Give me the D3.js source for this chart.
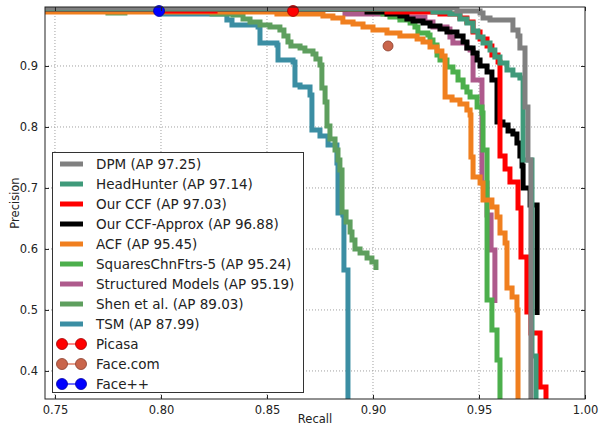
<!DOCTYPE html>
<html>
<head>
<meta charset="utf-8">
<script src="https://cdn.jsdelivr.net/npm/d3@7"></script>
<style>
  body { margin: 0; background: #fff; }
  text { font-family: "DejaVu Sans", sans-serif; }
</style>
</head>
<body>
<div id="chart"></div>
<script>
// PR curves (recall, precision)
const dpmRecall = [0.7453,0.9377,0.9396,0.9505,0.9519,0.9552,0.9656,0.9660,0.9684,0.9693,0.9717,0.9717,0.9731,0.9731,0.9745,0.9745];
const dpmPrecision = [0.9951,0.9951,0.9902,0.9869,0.9787,0.9754,0.9754,0.9590,0.9492,0.9295,0.9230,0.8328,0.8295,0.7459,0.7410,0.35];

const hhRecall = [0.7453,0.9283,0.9363,0.9410,0.9443,0.9472,0.9495,0.9519,0.9552,0.9575,0.9599,0.9632,0.9660,0.9693,0.9708,0.9708,0.9750,0.9750,0.9769,0.9769];
const hhPrecision = [0.9934,0.9885,0.9852,0.9770,0.9705,0.9574,0.9475,0.9377,0.9262,0.9148,0.9049,0.8934,0.8852,0.8803,0.8770,0.7459,0.7426,0.4246,0.4213,0.35];

const ccfRecall = [0.7453,0.7991,0.8255,0.9066,0.9316,0.9410,0.9443,0.9472,0.9505,0.9538,0.9561,0.9590,0.9599,0.9599,0.9623,0.9623,0.9646,0.9646,0.9684,0.9684,0.9698,0.9698,0.9726,0.9726,0.9745,0.9745,0.9788,0.9788,0.9816,0.9816];
const ccfPrecision = [0.9934,0.9902,0.9934,0.9885,0.9852,0.9787,0.9721,0.9557,0.9443,0.9328,0.9180,0.9066,0.8902,0.7525,0.7492,0.7311,0.7279,0.7098,0.7066,0.6672,0.6607,0.5869,0.5836,0.4967,0.4934,0.4623,0.4607,0.3738,0.3705,0.35];

const approxRecall = [0.7453,0.8972,0.9066,0.9127,0.9160,0.9189,0.9236,0.9269,0.9316,0.9349,0.9396,0.9425,0.9443,0.9472,0.9491,0.9505,0.9538,0.9561,0.9585,0.9585,0.9613,0.9637,0.9660,0.9679,0.9693,0.9703,0.9708,0.9741,0.9741,0.9774,0.9774];
const approxPrecision = [0.9934,0.9885,0.9852,0.9820,0.9770,0.9738,0.9705,0.9656,0.9607,0.9557,0.9492,0.9393,0.9295,0.9213,0.9098,0.9000,0.8902,0.8770,0.8639,0.8082,0.8033,0.7934,0.7885,0.7738,0.7525,0.7361,0.7000,0.6967,0.6721,0.6689,0.4918];

const acfRecall = [0.7453,0.8547,0.8764,0.8811,0.8858,0.8906,0.8953,0.9000,0.9066,0.9127,0.9208,0.9236,0.9269,0.9302,0.9325,0.9340,0.9340,0.9373,0.9410,0.9443,0.9458,0.9462,0.9472,0.9505,0.9519,0.9561,0.9585,0.9599,0.9623,0.9632,0.9656,0.9679,0.9684];
const acfPrecision = [0.9885,0.9852,0.9820,0.9787,0.9721,0.9689,0.9639,0.9590,0.9541,0.9492,0.9443,0.9393,0.9311,0.9246,0.9164,0.9066,0.8492,0.8443,0.8377,0.8279,0.8197,0.7508,0.7180,0.7082,0.6803,0.6689,0.6525,0.6262,0.6098,0.5361,0.5213,0.5000,0.35];

const squaresRecall = [0.7453,0.9019,0.9047,0.9080,0.9127,0.9175,0.9198,0.9212,0.9259,0.9269,0.9283,0.9302,0.9316,0.9349,0.9377,0.9401,0.9425,0.9443,0.9458,0.9491,0.9514,0.9519,0.9538,0.9538,0.9561,0.9561,0.9585,0.9585,0.9599,0.9599];
const squaresPrecision = [0.9934,0.9885,0.9852,0.9803,0.9754,0.9705,0.9639,0.9541,0.9508,0.9426,0.9344,0.9180,0.9098,0.8984,0.8902,0.8770,0.8656,0.8574,0.8492,0.8328,0.8230,0.7623,0.7574,0.5164,0.5131,0.4672,0.4639,0.4180,0.4148,0.35];

const structRecall = [0.7453,0.8868,0.9127,0.9245,0.9283,0.9349,0.9363,0.9377,0.9443,0.9458,0.9472,0.9472,0.9514,0.9514,0.9538,0.9538,0.9557,0.9557,0.9575,0.9575];
const structPrecision = [0.9934,0.9852,0.9803,0.9721,0.9639,0.9607,0.9475,0.9377,0.9295,0.9262,0.9148,0.8770,0.8738,0.7082,0.7049,0.6557,0.6525,0.5984,0.5951,0.5115];

const shenRecall = [0.7453,0.7750,0.7830,0.8241,0.8340,0.8387,0.8420,0.8467,0.8514,0.8561,0.8580,0.8599,0.8613,0.8656,0.8679,0.8717,0.8731,0.8750,0.8759,0.8774,0.8783,0.8797,0.8821,0.8835,0.8844,0.8854,0.8873,0.8892,0.8901,0.8915,0.8939,0.8972,0.8995,0.9014];
const shenPrecision = [0.9934,0.9869,0.9918,0.9852,0.9836,0.9770,0.9721,0.9672,0.9639,0.9590,0.9492,0.9393,0.9328,0.9295,0.9246,0.9197,0.9115,0.9016,0.8639,0.8410,0.8016,0.7803,0.7623,0.7459,0.7295,0.6607,0.6443,0.6279,0.6148,0.6000,0.5934,0.5852,0.5787,0.5656];

const tsmRecall = [0.7453,0.8009,0.8311,0.8335,0.8458,0.8467,0.8547,0.8552,0.8623,0.8632,0.8656,0.8703,0.8712,0.8750,0.8788,0.8830,0.8835,0.8858,0.8863,0.8882,0.8882];
const tsmPrecision = [0.9934,0.9852,0.9754,0.9672,0.9639,0.9377,0.9344,0.9098,0.9066,0.8689,0.8656,0.8525,0.7951,0.7852,0.7705,0.7410,0.6590,0.6557,0.5656,0.5623,0.35];

// single operating points of the commercial systems
const pointNames = ["Picasa", "Face.com", "Face++"];
const pointRecall = [0.8623, 0.9071, 0.7991];
const pointPrecision = [0.9902, 0.9328, 0.9902];

const curveNames = ["DPM (AP 97.25)", "HeadHunter (AP 97.14)", "Our CCF (AP 97.03)",
  "Our CCF-Approx (AP 96.88)", "ACF (AP 95.45)", "SquaresChnFtrs-5 (AP 95.24)",
  "Structured Models (AP 95.19)", "Shen et al. (AP 89.03)", "TSM (AP 87.99)"];

const xTicks = [0.75, 0.80, 0.85, 0.90, 0.95, 1.00];
const yTicks = [0.4, 0.5, 0.6, 0.7, 0.8, 0.9];

const width = 599;
const height = 425;
const plotLeft = 45, plotRight = 585, plotTop = 7, plotBottom = 399;

const curveColors = ["#808080", "#3f9a7a", "#ff0000", "#000000", "#f07f1f",
  "#4caf4c", "#ae5a8c", "#5e9f5e", "#3b8ea3"];
const pointColors = ["#ff0000", "#c9654b", "#0000ff"];
const pointEdges = ["#a00000", "#8a3e2c", "#0000a0"];
const pointLinks = ["#ff8a8a", "#e6a08e", "#7070ff"];

const curves = [
  [dpmRecall, dpmPrecision], [hhRecall, hhPrecision], [ccfRecall, ccfPrecision],
  [approxRecall, approxPrecision], [acfRecall, acfPrecision], [squaresRecall, squaresPrecision],
  [structRecall, structPrecision], [shenRecall, shenPrecision], [tsmRecall, tsmPrecision]
].map((c, i) => ({ name: curveNames[i], color: curveColors[i], pts: d3.zip(c[0], c[1]) }));

var svg = d3.select("#chart").append("svg")
  .attr("width", width)
  .attr("height", height);

const xScale = d3.scaleLinear().domain([0.7453, 1.0]).range([plotLeft, plotRight]);
const yScale = d3.scaleLinear().domain([0.354, 0.9967]).range([plotBottom, plotTop]);

svg.append("clipPath").attr("id", "plot-clip")
  .append("rect")
  .attr("x", plotLeft).attr("y", plotTop)
  .attr("width", plotRight - plotLeft).attr("height", plotBottom - plotTop);

// dotted grid
var grid = svg.append("g").attr("class", "grid")
  .attr("stroke", "#a0a0a0")
  .attr("stroke-width", 1)
  .attr("stroke-dasharray", "1,2");
grid.selectAll("line.gx").data(xTicks.slice(0, -1)).join("line")
  .attr("x1", d => xScale(d)).attr("x2", d => xScale(d))
  .attr("y1", plotTop).attr("y2", plotBottom);
grid.selectAll("line.gy").data(yTicks).join("line")
  .attr("y1", d => yScale(d)).attr("y2", d => yScale(d))
  .attr("x1", plotLeft).attr("x2", plotRight);

// curves: drawn in reverse so DPM ends up on top
var line = d3.line()
  .x(d => xScale(d[0]))
  .y(d => yScale(d[1]))
  .curve(d3.curveStepAfter);

svg.append("g")
  .attr("clip-path", "url(#plot-clip)")
  .selectAll("path")
  .data(curves.slice().reverse())
  .join("path")
  .attr("d", d => line(d.pts))
  .attr("fill", "none")
  .attr("stroke", d => d.color)
  .attr("stroke-width", 5)
  .attr("stroke-linejoin", "miter");

// commercial operating points
svg.append("g")
  .selectAll("circle")
  .data(pointNames)
  .join("circle")
  .attr("cx", (d, i) => xScale(pointRecall[i]))
  .attr("cy", (d, i) => yScale(pointPrecision[i]))
  .attr("r", (d, i) => i === 1 ? 5 : 5.5)
  .attr("fill", (d, i) => pointColors[i])
  .attr("stroke", (d, i) => pointEdges[i])
  .attr("stroke-width", 0.8);

// axes (ticks pointing inwards on all four sides)
var xAxis = d3.axisBottom(xScale).tickValues(xTicks).tickSize(-4).tickPadding(7)
  .tickFormat(d3.format(".2f"));
var yAxis = d3.axisLeft(yScale).tickValues(yTicks).tickSize(-4).tickPadding(7)
  .tickFormat(d3.format(".1f"));

svg.append("g")
  .attr("transform", "translate(0," + plotBottom + ")")
  .call(xAxis);
svg.append("g")
  .attr("transform", "translate(" + plotLeft + ",0)")
  .call(yAxis);
svg.append("g").attr("transform", "translate(0," + plotTop + ")")
  .call(d3.axisTop(xScale).tickValues(xTicks).tickSize(-4).tickFormat(""));
svg.append("g").attr("transform", "translate(" + plotRight + ",0)")
  .call(d3.axisRight(yScale).tickValues(yTicks).tickSize(-4).tickFormat(""));

svg.selectAll(".domain").remove();
svg.selectAll(".tick line").attr("stroke", "#222");
svg.selectAll(".tick text")
  .attr("fill", "#222")
  .style("font-size", "11.5px")
  .style("font-family", "DejaVu Sans");

svg.append("rect")
  .attr("x", plotLeft).attr("y", plotTop)
  .attr("width", plotRight - plotLeft).attr("height", plotBottom - plotTop)
  .attr("fill", "none")
  .attr("stroke", "#222")
  .attr("stroke-width", 1);

svg.append("text")
  .attr("x", (plotLeft + plotRight) / 2)
  .attr("y", 423)
  .attr("text-anchor", "middle")
  .style("font-size", "11.5px")
  .attr("fill", "#222")
  .text("Recall");

svg.append("text")
  .attr("transform", "translate(19," + ((plotTop + plotBottom) / 2) + ") rotate(-90)")
  .attr("text-anchor", "middle")
  .style("font-size", "11.5px")
  .attr("fill", "#222")
  .text("Precision");

// legend
var legend = svg.append("g").attr("class", "legend");
legend.append("rect")
  .attr("x", 52.5).attr("y", 152.5)
  .attr("width", 251).attr("height", 240)
  .attr("fill", "#fff")
  .attr("stroke", "#333")
  .attr("stroke-width", 1);

const rowY = i => 164 + i * 20;

var lrows = legend.selectAll("g.curve").data(curves).join("g")
  .attr("transform", (d, i) => "translate(0," + rowY(i) + ")");
lrows.append("line")
  .attr("x1", 60).attr("x2", 83)
  .attr("stroke", d => d.color)
  .attr("stroke-width", 5);
lrows.append("text")
  .attr("x", 96).attr("dy", "0.36em")
  .style("font-size", "13.5px")
  .attr("fill", "#222")
  .text(d => d.name);

var prows = legend.selectAll("g.point").data(pointNames).join("g")
  .attr("transform", (d, i) => "translate(0," + rowY(curves.length + i) + ")");
prows.append("line")
  .attr("x1", 62).attr("x2", 81)
  .attr("stroke", (d, i) => pointLinks[i])
  .attr("stroke-width", 2);
prows.selectAll("circle").data((d, i) => [[62, i], [81, i]]).join("circle")
  .attr("cx", d => d[0])
  .attr("r", 5.5)
  .attr("fill", d => pointColors[d[1]])
  .attr("stroke", d => pointEdges[d[1]])
  .attr("stroke-width", 0.8);
prows.append("text")
  .attr("x", 96).attr("dy", "0.36em")
  .style("font-size", "13.5px")
  .attr("fill", "#222")
  .text(d => d);
</script>
</body>
</html>
